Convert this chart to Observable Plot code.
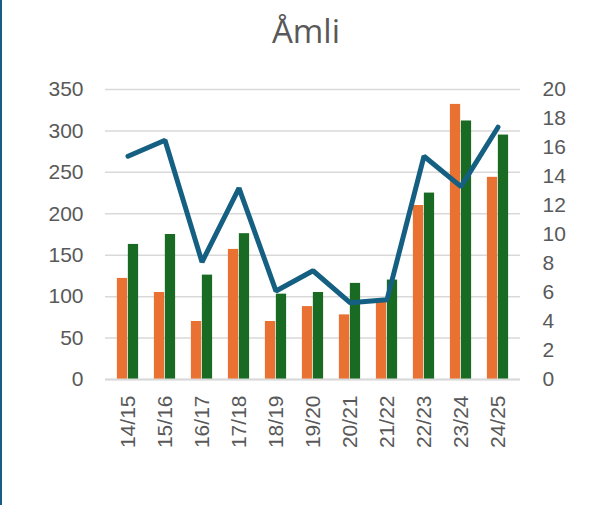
<!DOCTYPE html>
<html>
<head>
<meta charset="utf-8">
<script src="https://cdn.jsdelivr.net/npm/d3@7"></script>
<script src="https://cdn.jsdelivr.net/npm/@observablehq/plot@0.6"></script>
<style>
  html, body { margin: 0; padding: 0; background: #fff; }
  #wrap { position: relative; width: 601px; height: 505px; overflow: hidden; background: #fff; }
  #edge { position: absolute; left: 0; top: 0; width: 2px; height: 505px; background: #156082; }
  #title { position: absolute; left: 0; width: 612px; top: 11px; text-align: center;
           font-family: "Open Sans", "Noto Sans", sans-serif; font-size: 33px; line-height: 40px; color: #595959; }
  #chart { position: absolute; left: 0; top: 0; }
</style>
</head>
<body>
<div id="wrap">
  <div id="chart"></div>
  <div id="title">Åmli</div>
  <div id="edge"></div>
</div>
<script>
const seasons = ["14/15","15/16","16/17","17/18","18/19","19/20","20/21","21/22","22/23","23/24","24/25"];
const seriesOrange = [122, 105, 70, 157, 70, 88, 78, 95, 210, 332, 244];
const seriesGreen  = [163, 175, 126, 176, 103, 105, 116, 120, 225, 312, 295];
const seriesLine   = [15.4, 16.5, 8.1, 13.2, 6.1, 7.5, 5.3, 5.5, 15.4, 13.3, 17.4];
const leftTicks  = [0, 50, 100, 150, 200, 250, 300, 350];
const rightTicks = [0, 2, 4, 6, 8, 10, 12, 14, 16, 18, 20];

const ratio = 350 / 20;
const rows = seasons.map((s, i) => ({season: s, orange: seriesOrange[i], green: seriesGreen[i], line: seriesLine[i]}));

const chart = Plot.plot({
  width: 601,
  height: 505,
  marginTop: 89,
  marginBottom: 126,
  marginLeft: 105,
  marginRight: 81,
  style: {fontFamily: "'Liberation Sans', Arial, sans-serif", fontSize: "21px", color: "#595959", background: "transparent"},
  x: {domain: seasons, padding: 0},
  y: {domain: [0, 350]},
  marks: [
    Plot.gridY(leftTicks, {stroke: "#d9d9d9", strokeOpacity: 1, strokeWidth: 1.5}),
    Plot.barY(rows, {x: "season", y: "orange", fill: "#E97132", insetLeft: 7.9, insetRight: 18.85}),
    Plot.barY(rows, {x: "season", y: "green", fill: "#196B24", insetLeft: 18.85, insetRight: 7.9}),
    Plot.ruleY([0], {stroke: "#d9d9d9", strokeWidth: 2}),
    Plot.line(rows, {x: "season", y: d => d.line * ratio, stroke: "#156082", strokeWidth: 5, strokeLinejoin: "miter"}),
    Plot.axisY(leftTicks, {anchor: "left", tickSize: 0, tickPadding: 22, label: null}),
    Plot.axisY(rightTicks.map(v => v * ratio), {anchor: "right", tickSize: 0, tickPadding: 22, tickFormat: d => String(Math.round(d / ratio)), label: null}),
    Plot.axisX({tickRotate: -90, tickSize: 0, tickPadding: 16, label: null})
  ]
});
document.getElementById("chart").appendChild(chart);
</script>
</body>
</html>
